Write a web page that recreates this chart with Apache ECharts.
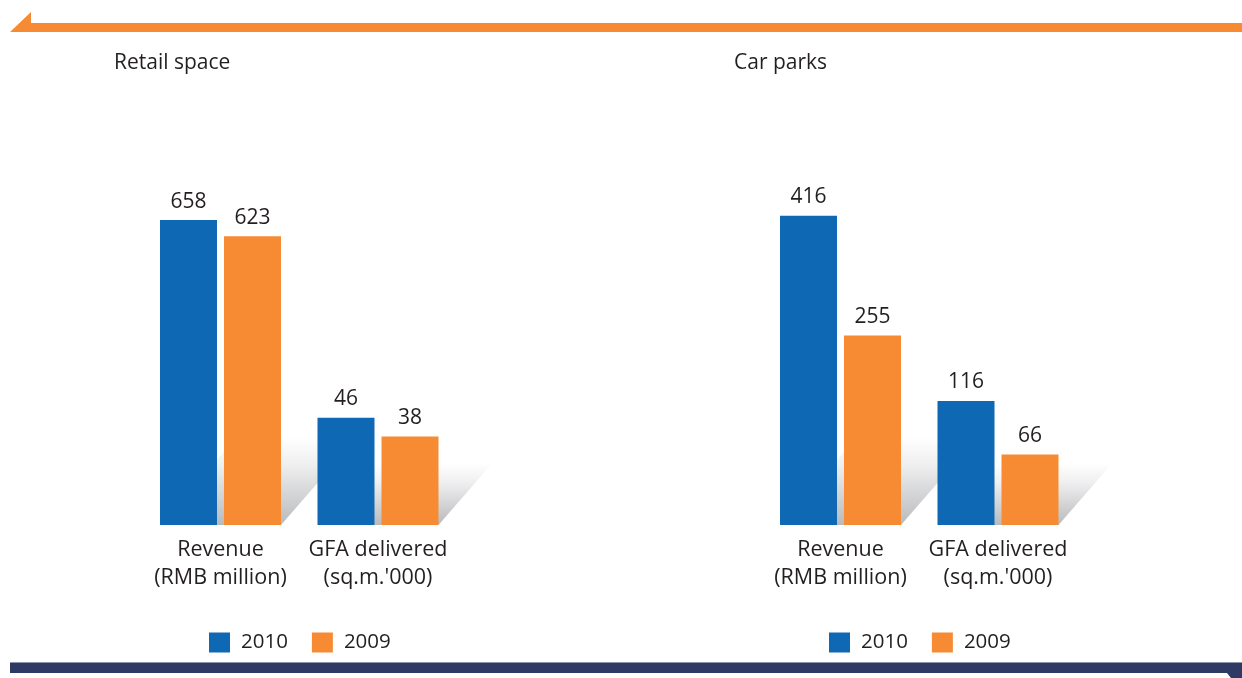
<!DOCTYPE html>
<html>
<head>
<meta charset="utf-8">
<script src="https://cdn.jsdelivr.net/npm/echarts@6/dist/echarts.min.js"></script>
<style>
html,body{margin:0;padding:0;background:#fff;}
#chart{width:1242px;height:678px;}
</style>
</head>
<body>
<div id="chart"></div>
<script>
// ---- data ----
const panelTitles = ['Retail space', 'Car parks'];
const categories = ['Revenue\n(RMB million)', "GFA delivered\n(sq.m.'000)"];
const seriesNames = ['2010', '2009'];
const retail2010 = [658, 46];
const retail2009 = [623, 38];
const car2010 = [416, 116];
const car2009 = [255, 66];

// ---- scale settings (each category group drawn with its own value scale) ----
const panelValues = [[retail2010, retail2009], [car2010, car2009]];
const axisMax = [[669, 133], [417, 290]];

const FONT = '"Open Sans", "Noto Sans", sans-serif';
const TEXT = '#231f20';
const BLUE = '#0f68b4';
const ORANGE = '#f68b33';
const colors = [BLUE, ORANGE];

const groupCenters = [[220.5, 378], [840.5, 998]];
const groupWidth = 157;
const shadowDepth = [88, 62];

const grids = [], xAxes = [], yAxes = [], series = [];
for (let p = 0; p < 2; p++) {
  for (let c = 0; c < 2; c++) {
    const g = grids.length;
    grids.push({left: groupCenters[p][c] - groupWidth / 2, width: groupWidth, top: 215, height: 310});
    xAxes.push({
      type: 'category', gridIndex: g, data: [categories[c]],
      axisLine: {show: false}, axisTick: {show: false},
      axisLabel: {fontSize: 21.5, lineHeight: 28, color: TEXT, fontFamily: FONT, margin: 11, interval: 0}
    });
    yAxes.push({type: 'value', gridIndex: g, min: 0, max: axisMax[p][c], show: false, splitLine: {show: false}});
    const depth = shadowDepth[c];
    series.push({
      type: 'custom', name: 'shadow', xAxisIndex: g, yAxisIndex: g, z: 1, silent: true,
      data: [[0, 0]],
      renderItem: function (params, api) {
        const base = api.coord([api.value(0), 0]);
        const cx = base[0], by = base[1];
        const hw = 60.5, h = depth, dx = 0.87 * depth;
        return {
          type: 'polygon',
          shape: {points: [[cx - hw, by], [cx + hw, by], [cx + hw + dx, by - h], [cx - hw + dx, by - h]]},
          style: {
            fill: new echarts.graphic.LinearGradient(0, 0, 0, 1, [
              {offset: 0, color: 'rgba(255,255,255,1)'},
              {offset: 0.3, color: '#f0f0f1'},
              {offset: 1, color: '#b9babc'}
            ])
          }
        };
      }
    });
    for (let s = 0; s < 2; s++) {
      series.push({
        type: 'bar', name: seriesNames[s], xAxisIndex: g, yAxisIndex: g, z: 3,
        data: [panelValues[p][s][c]],
        barWidth: 57, barGap: '12.3%',
        itemStyle: {color: colors[s]},
        label: {show: true, position: 'top', distance: 8, fontSize: 21, color: TEXT, fontFamily: FONT}
      });
    }
  }
}

const legendCommon = {
  top: 632, padding: 0, icon: 'rect', itemWidth: 21, itemHeight: 20, itemGap: 24, orient: 'horizontal',
  data: seriesNames, selectedMode: false,
  textStyle: {fontSize: 20.5, color: TEXT, fontFamily: FONT, padding: [0, 0, 0, 6]}
};

const option = {
  animation: false,
  color: colors,
  title: [
    {text: panelTitles[0], left: 109, top: 48, textStyle: {fontSize: 21, fontWeight: 'normal', color: TEXT, fontFamily: FONT}},
    {text: panelTitles[1], left: 729, top: 48, textStyle: {fontSize: 21, fontWeight: 'normal', color: TEXT, fontFamily: FONT}}
  ],
  legend: [
    Object.assign({left: 209}, legendCommon),
    Object.assign({left: 829}, legendCommon)
  ],
  grid: grids,
  xAxis: xAxes,
  yAxis: yAxes,
  series: series,
  graphic: [
    {type: 'polygon', shape: {points: [[10, 32], [31, 12], [31, 23], [1242, 23], [1242, 32]]}, style: {fill: ORANGE}},
    {type: 'rect', shape: {x: 10, y: 662, width: 1232, height: 1}, style: {fill: '#8d93ab'}},
    {type: 'polygon', shape: {points: [[10, 663], [1242, 663], [1242, 678], [1231, 678], [1227, 673], [10, 673]]}, style: {fill: '#2e3a63'}}
  ]
};

const chart = echarts.init(document.getElementById('chart'), null, {renderer: 'canvas'});
chart.setOption(option);
</script>
</body>
</html>
